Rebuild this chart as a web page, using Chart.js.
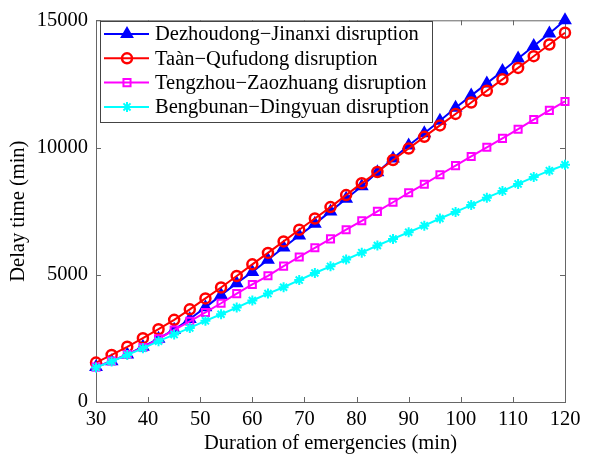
<!DOCTYPE html>
<html>
<head>
<meta charset="utf-8">
<script src="https://cdn.jsdelivr.net/npm/chart.js@4"></script>
<style>
  body { margin: 0; background: #fff; }
  #wrap { width: 604px; height: 456px; }
</style>
</head>
<body>
<div id="wrap"><canvas id="grafico" width="604" height="456"></canvas></div>
<script>
// duração (min), de 3 em 3
const duracao = [30, 33, 36, 39, 42, 45, 48, 51, 54, 57, 60, 63, 66, 69, 72, 75, 78, 81, 84, 87, 90, 93, 96, 99, 102, 105, 108, 111, 114, 117, 120];

const dezhoudong = [1380, 1600, 1870, 2170, 2490, 2840, 3260, 3720, 4200, 4670, 5110, 5590, 6070, 6540, 7000, 7490, 7990, 8480, 9030, 9570, 10080, 10560, 11050, 11560, 12040, 12520, 13010, 13500, 13990, 14480, 15000];
const taan = [1550, 1850, 2170, 2510, 2860, 3230, 3640, 4070, 4500, 4950, 5410, 5860, 6310, 6770, 7210, 7660, 8130, 8600, 9040, 9510, 9960, 10420, 10870, 11320, 11770, 12230, 12680, 13130, 13590, 14050, 14510];
const tengzhou = [1370, 1610, 1870, 2140, 2480, 2830, 3170, 3520, 3880, 4260, 4620, 4960, 5340, 5700, 6060, 6410, 6770, 7120, 7490, 7850, 8220, 8560, 8930, 9290, 9650, 10010, 10360, 10720, 11100, 11460, 11810];
const bengbunan = [1360, 1590, 1850, 2110, 2390, 2650, 2910, 3190, 3450, 3710, 3990, 4260, 4510, 4790, 5070, 5330, 5600, 5870, 6150, 6410, 6670, 6930, 7210, 7470, 7740, 8030, 8290, 8570, 8840, 9090, 9320];

const rotulos = ['Dezhoudong\u2212Jinanxi disruption', 'Ta\u00e0n\u2212Qufudong disruption', 'Tengzhou\u2212Zaozhuang disruption', 'Bengbunan\u2212Dingyuan disruption'];
const xTicks = [30, 40, 50, 60, 70, 80, 90, 100, 110, 120];
const yTicks = [0, 5000, 10000, 15000];

const fonte = 'Liberation Serif, Times New Roman, serif';
const tam = 20.5;
const corEixo = '#666';

function serie(valores) {
    return valores.map((v, i) => ({ x: duracao[i], y: v }));
}

// moldura com ticks para dentro (estilo matlab)
const moldura = {
    id: 'moldura',
    beforeDatasetsDraw(chart) {
        const { ctx, chartArea: a, scales } = chart;
        ctx.save();
        ctx.strokeStyle = corEixo;
        ctx.lineWidth = 1;
        ctx.strokeRect(a.left + 0.5, a.top + 0.5, a.right - a.left, a.bottom - a.top);
        const t = 5;
        ctx.beginPath();
        xTicks.forEach(v => {
            const px = Math.round(scales.x.getPixelForValue(v)) + 0.5;
            ctx.moveTo(px, a.bottom); ctx.lineTo(px, a.bottom - t);
            ctx.moveTo(px, a.top); ctx.lineTo(px, a.top + t);
        });
        yTicks.forEach(v => {
            const py = Math.round(scales.y.getPixelForValue(v)) + 0.5;
            ctx.moveTo(a.left, py); ctx.lineTo(a.left + t, py);
            ctx.moveTo(a.right, py); ctx.lineTo(a.right - t, py);
        });
        ctx.stroke();
        ctx.restore();
    }
};

// legenda dentro do gráfico, canto superior esquerdo
const legendaInterna = {
    id: 'legendaInterna',
    afterDraw(chart) {
        const { ctx } = chart;
        const bx = 100, by = 21, bw = 332, bh = 101;
        ctx.save();
        ctx.fillStyle = '#fff';
        ctx.fillRect(bx, by, bw, bh);
        ctx.strokeStyle = '#444';
        ctx.lineWidth = 1;
        ctx.strokeRect(bx + 0.5, by + 0.5, bw, bh);
        ctx.font = tam + 'px ' + fonte;
        ctx.textBaseline = 'middle';
        ctx.textAlign = 'left';
        chart.data.datasets.forEach((ds, i) => {
            const y = 34 + i * 24.3;
            ctx.strokeStyle = ds.borderColor;
            ctx.lineWidth = 2;
            ctx.beginPath();
            ctx.moveTo(104, y); ctx.lineTo(149, y);
            ctx.stroke();
            ctx.fillStyle = ds.pointBackgroundColor;
            ctx.strokeStyle = ds.borderColor;
            ctx.lineWidth = ds.pointBorderWidth;
            Chart.helpers.drawPoint(ctx, { pointStyle: ds.pointStyle, radius: ds.pointRadius, borderWidth: ds.pointBorderWidth }, 127, y);
            ctx.fillStyle = '#000';
            ctx.fillText(rotulos[i], 155, y + 1);
        });
        ctx.restore();
    }
};

new Chart(document.getElementById('grafico'), {
    type: 'line',
    data: {
        datasets: [
            { data: serie(dezhoudong), borderColor: '#0000ff', pointBackgroundColor: '#0000ff', pointStyle: 'triangle', pointRadius: 6, pointBorderWidth: 2, order: 4 },
            { data: serie(taan), borderColor: '#ff0000', pointBackgroundColor: 'rgba(255,255,255,0)', pointStyle: 'circle', pointRadius: 5, pointBorderWidth: 2.5, order: 3 },
            { data: serie(tengzhou), borderColor: '#ff00ff', pointBackgroundColor: 'rgba(255,255,255,0)', pointStyle: 'rect', pointRadius: 5, pointBorderWidth: 2, order: 2 },
            { data: serie(bengbunan), borderColor: '#00ffff', pointBackgroundColor: '#00ffff', pointStyle: 'star', pointRadius: 5, pointBorderWidth: 2, order: 1 }
        ].map(ds => Object.assign(ds, { borderWidth: 2, pointBorderColor: ds.borderColor, pointHoverRadius: ds.pointRadius, tension: 0, clip: false }))
    },
    options: {
        responsive: false,
        animation: false,
        layout: { padding: { top: 16, right: 39, left: 0, bottom: 0 } },
        plugins: { legend: { display: false }, tooltip: { enabled: false } },
        scales: {
            x: {
                type: 'linear', min: 30, max: 120,
                afterBuildTicks: s => { s.ticks = xTicks.map(v => ({ value: v })); },
                afterFit: s => { s.height = 54; },
                grid: { display: false, drawTicks: false },
                border: { display: false },
                ticks: { color: '#000', padding: 5, maxRotation: 0, callback: v => String(v), font: { family: fonte, size: tam } },
                title: { display: true, text: 'Duration of emergencies (min)', color: '#000', padding: { top: 0, bottom: 0 }, font: { family: fonte, size: tam } }
            },
            y: {
                min: 0, max: 15000,
                afterBuildTicks: s => { s.ticks = yTicks.map(v => ({ value: v })); },
                afterFit: s => { s.width = 96; },
                grid: { display: false, drawTicks: false },
                border: { display: false },
                ticks: { color: '#000', padding: 8, callback: v => String(v), font: { family: fonte, size: tam } },
                title: { display: true, text: 'Delay time (min)', color: '#000', padding: { top: 6, bottom: 0 }, font: { family: fonte, size: tam } }
            }
        }
    },
    plugins: [moldura, legendaInterna]
});
</script>
</body>
</html>
